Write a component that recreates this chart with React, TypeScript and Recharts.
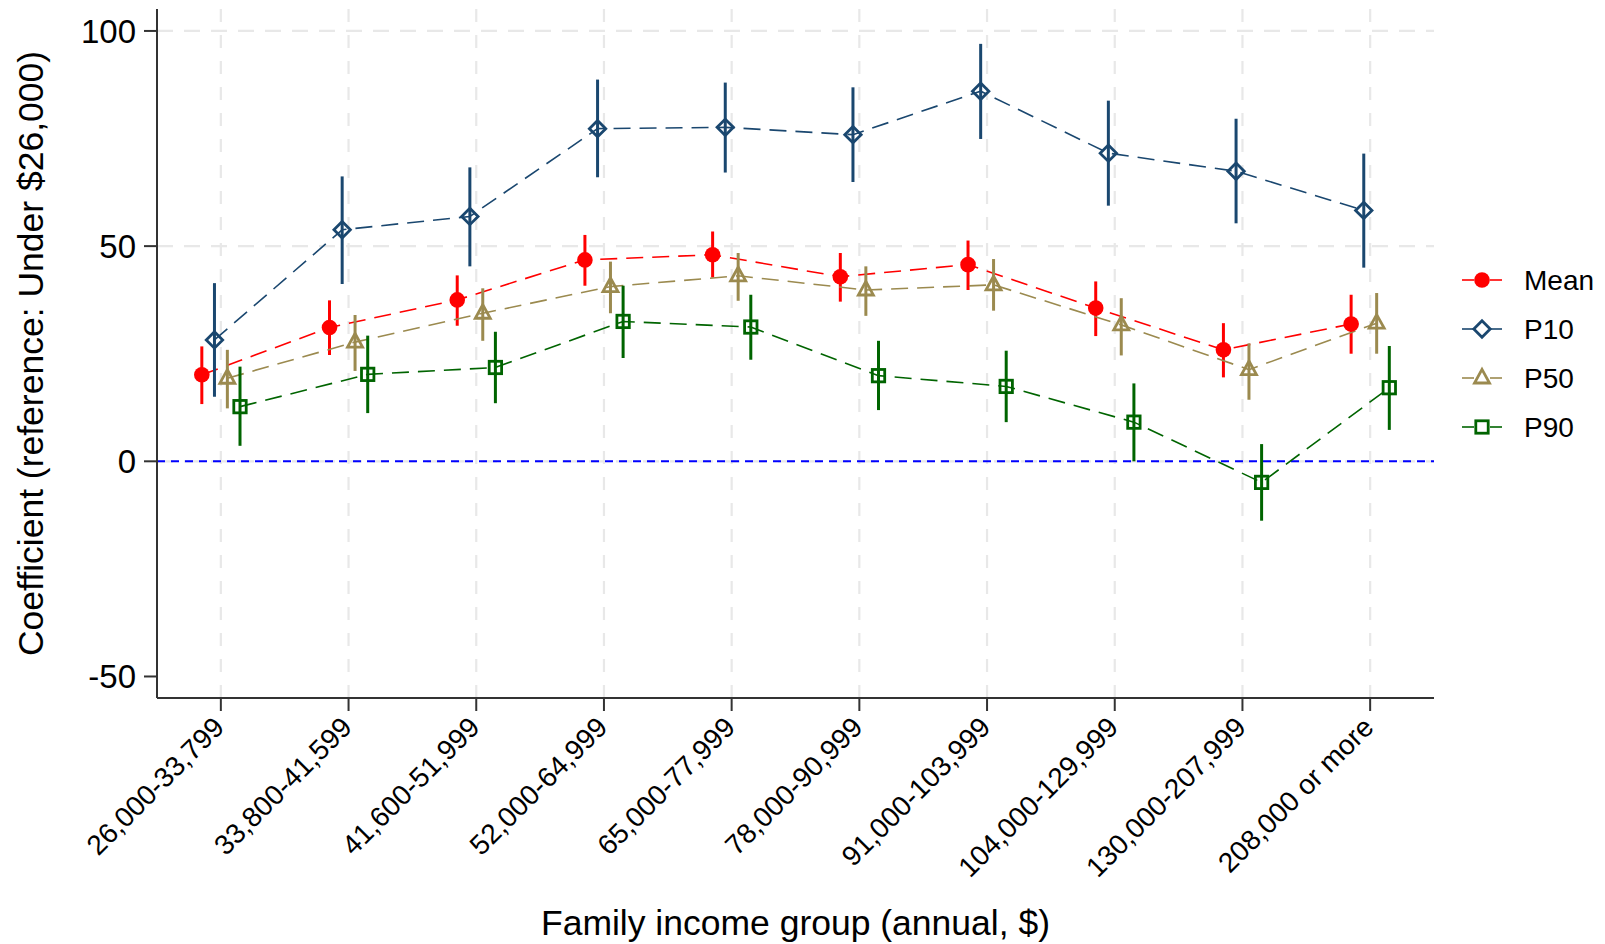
import React from 'react';
import { ComposedChart, Line, XAxis, YAxis, ErrorBar, ReferenceLine, Legend, Label } from 'recharts';

const categories = [
  '26,000-33,799', '33,800-41,599', '41,600-51,999', '52,000-64,999', '65,000-77,999',
  '78,000-90,999', '91,000-103,999', '104,000-129,999', '130,000-207,999', '208,000 or more',
];

const seriesNames = ['Mean', 'P10', 'P50', 'P90'];

const meanValues = [20.1, 31.1, 37.5, 46.8, 48.0, 42.9, 45.7, 35.6, 25.9, 31.9];
const meanLow = [13.3, 24.7, 31.5, 40.8, 42.7, 37.1, 39.8, 29.1, 19.5, 25.0];
const meanHigh = [26.7, 37.4, 43.2, 52.6, 53.4, 48.4, 51.3, 41.8, 32.1, 38.7];

const p10Values = [28.2, 53.8, 56.9, 77.3, 77.6, 75.9, 86.0, 71.6, 67.4, 58.3];
const p10Low = [15.0, 41.2, 45.3, 66.0, 67.1, 64.9, 74.9, 59.4, 55.3, 45.0];
const p10High = [41.4, 66.2, 68.3, 88.7, 88.0, 86.9, 97.0, 83.8, 79.6, 71.5];

const p50Values = [19.3, 27.7, 34.4, 40.6, 43.1, 39.8, 41.0, 31.7, 21.3, 32.1];
const p50Low = [12.3, 21.0, 28.0, 34.4, 37.3, 33.8, 35.0, 24.6, 14.3, 25.0];
const p50High = [25.9, 34.0, 40.2, 46.4, 48.4, 45.3, 47.0, 37.9, 27.4, 39.1];

const p90Values = [12.7, 20.2, 21.8, 32.5, 31.2, 19.9, 17.4, 9.1, -4.9, 17.1];
const p90Low = [3.6, 11.2, 13.5, 24.0, 23.6, 11.9, 9.1, 0.0, -13.8, 7.3];
const p90High = [22.0, 29.2, 30.1, 40.8, 38.7, 28.0, 25.7, 18.1, 4.0, 26.8];

const yTicks = [-50, 0, 50, 100];
const gridYValues = [0, 50, 100];

const xTitle = 'Family income group (annual, $)';
const yTitle = 'Coefficient (reference: Under $26,000)';

const FONT = '"Liberation Sans", Arial, Helvetica, sans-serif';
const MEAN_COLOR = '#ff0000';
const P10_COLOR = '#1a476f';
const P50_COLOR = '#9b8a4f';
const P90_COLOR = '#006400';
const AXIS_COLOR = '#333333';
const GRID_COLOR = '#e8e8e8';

// horizontal dodge of each series within a category (in category units)
const offsets = [-0.149, -0.05, 0.051, 0.15];

const buildData = (vals: number[], lo: number[], hi: number[], off: number) =>
  vals.map((v, i) => ({ x: i + off, y: v, err: [v - lo[i], hi[i] - v] }));

const meanData = buildData(meanValues, meanLow, meanHigh, offsets[0]);
const p10Data = buildData(p10Values, p10Low, p10High, offsets[1]);
const p50Data = buildData(p50Values, p50Low, p50High, offsets[2]);
const p90Data = buildData(p90Values, p90Low, p90High, offsets[3]);

type Shape = 'circle' | 'diamond' | 'triangle' | 'square';

const drawMarker = (shape: Shape, cx: number, cy: number, color: string, key?: string | number) => {
  if (cx == null || cy == null || isNaN(cx) || isNaN(cy)) return <g key={key} />;
  if (shape === 'circle') {
    return <circle key={key} cx={cx} cy={cy} r={7.8} fill={color} stroke="none" />;
  }
  if (shape === 'diamond') {
    const h = 8.2;
    return (
      <polygon key={key}
        points={`${cx},${cy - h} ${cx + h},${cy} ${cx},${cy + h} ${cx - h},${cy}`}
        fill="none" stroke={color} strokeWidth={2.8} />
    );
  }
  if (shape === 'triangle') {
    return (
      <polygon key={key}
        points={`${cx},${cy - 8.6} ${cx + 7.5},${cy + 5} ${cx - 7.5},${cy + 5}`}
        fill="none" stroke={color} strokeWidth={2.8} strokeLinejoin="miter" />
    );
  }
  const s = 6.2;
  return <rect key={key} x={cx - s} y={cy - s} width={2 * s} height={2 * s} fill="none" stroke={color} strokeWidth={2.8} />;
};

const dotFor = (shape: Shape, color: string) => (props: any) =>
  drawMarker(shape, props.cx, props.cy, color, `${shape}-${props.index}`);

const legendShapes: Shape[] = ['circle', 'diamond', 'triangle', 'square'];
const legendColors = [MEAN_COLOR, P10_COLOR, P50_COLOR, P90_COLOR];

const renderLegend = () => (
  <svg width={165} height={200} style={{ display: 'block', overflow: 'visible' }}>
    {seriesNames.map((name, i) => {
      const cy = 25 + i * 49;
      const cx = 42;
      const c = legendColors[i];
      return (
        <g key={name}>
          <line x1={cx - 20} y1={cy} x2={cx - 8} y2={cy} stroke={c} strokeWidth={1.6} />
          <line x1={cx + 8} y1={cy} x2={cx + 20} y2={cy} stroke={c} strokeWidth={1.6} />
          {drawMarker(legendShapes[i], cx, cy, c)}
          <text x={84} y={cy} dy="0.36em" fontSize={28} fontFamily={FONT} fill="#000">{name}</text>
        </g>
      );
    })}
  </svg>
);

const XTick = (props: any) => {
  const { x, payload } = props;
  const ax = x + 5;
  const ay = 729;
  return (
    <text x={ax} y={ay} textAnchor="end" fontSize={28} fontFamily={FONT} fill="#000"
      transform={`rotate(-45, ${ax}, ${ay})`}>
      {categories[payload.value]}
    </text>
  );
};

const YTitle = (props: any) => {
  const vb = props.viewBox || {};
  const cx = 43;
  const cy = (vb.y ?? 9) + (vb.height ?? 689) / 2;
  return (
    <text x={cx} y={cy} textAnchor="middle" fontSize={35.5} fontFamily={FONT} fill="#000"
      transform={`rotate(-90, ${cx}, ${cy})`}>
      {yTitle}
    </text>
  );
};

const XTitle = (props: any) => {
  const vb = props.viewBox || {};
  const cx = (vb.x ?? 157) + (vb.width ?? 1277) / 2;
  return (
    <text x={cx} y={934.5} textAnchor="middle" fontSize={35.5} fontFamily={FONT} fill="#000">
      {xTitle}
    </text>
  );
};

const tickIdx = categories.map((_, i) => i);

export default function App() {
  return (
    <div style={{ position: 'absolute', left: 0, top: 0, width: 1605, height: 944, background: '#fff' }}>
      <ComposedChart width={1605} height={944} margin={{ top: 9, right: 6, bottom: 0, left: 0 }}
        style={{ fontFamily: FONT }}>
        <XAxis type="number" dataKey="x" domain={[-0.5, 9.5]} ticks={tickIdx} interval={0}
          allowDataOverflow height={246} tickSize={13}
          axisLine={{ stroke: AXIS_COLOR, strokeWidth: 2 }}
          tickLine={{ stroke: AXIS_COLOR, strokeWidth: 2 }}
          tick={<XTick />}>
          <Label content={<XTitle />} />
        </XAxis>
        <YAxis type="number" domain={[-55, 105.1]} ticks={yTicks} allowDataOverflow width={157}
          tickSize={13} tickMargin={8}
          axisLine={{ stroke: AXIS_COLOR, strokeWidth: 2 }}
          tickLine={{ stroke: AXIS_COLOR, strokeWidth: 2 }}
          tick={{ fontSize: 33, fill: '#000', fontFamily: FONT }}>
          <Label content={<YTitle />} />
        </YAxis>

        {tickIdx.map((i) => (
          <ReferenceLine key={`vg${i}`} x={i} stroke={GRID_COLOR} strokeWidth={2.2} strokeDasharray="13 13" />
        ))}
        {gridYValues.map((v) => (
          <ReferenceLine key={`hg${v}`} y={v} stroke={GRID_COLOR} strokeWidth={2.2} strokeDasharray="16 11" />
        ))}
        <ReferenceLine y={0} stroke="#0000ff" strokeWidth={2} strokeDasharray="8 6" />

        <Legend layout="vertical" align="right" verticalAlign="top" content={renderLegend}
          wrapperStyle={{ left: 1440, top: 255, width: 165, height: 200 }} />

        <Line data={meanData} dataKey="y" name="Mean" stroke={MEAN_COLOR} strokeWidth={1.6}
          strokeDasharray="17 9" dot={dotFor('circle', MEAN_COLOR)} activeDot={false}
          isAnimationActive={false}>
          <ErrorBar dataKey="err" direction="y" width={0} stroke={MEAN_COLOR} strokeWidth={3} isAnimationActive={false} />
        </Line>
        <Line data={p10Data} dataKey="y" name="P10" stroke={P10_COLOR} strokeWidth={1.6}
          strokeDasharray="17 9" dot={dotFor('diamond', P10_COLOR)} activeDot={false}
          isAnimationActive={false}>
          <ErrorBar dataKey="err" direction="y" width={0} stroke={P10_COLOR} strokeWidth={3} isAnimationActive={false} />
        </Line>
        <Line data={p50Data} dataKey="y" name="P50" stroke={P50_COLOR} strokeWidth={1.6}
          strokeDasharray="17 9" dot={dotFor('triangle', P50_COLOR)} activeDot={false}
          isAnimationActive={false}>
          <ErrorBar dataKey="err" direction="y" width={0} stroke={P50_COLOR} strokeWidth={3} isAnimationActive={false} />
        </Line>
        <Line data={p90Data} dataKey="y" name="P90" stroke={P90_COLOR} strokeWidth={1.6}
          strokeDasharray="17 9" dot={dotFor('square', P90_COLOR)} activeDot={false}
          isAnimationActive={false}>
          <ErrorBar dataKey="err" direction="y" width={0} stroke={P90_COLOR} strokeWidth={3} isAnimationActive={false} />
        </Line>
      </ComposedChart>
    </div>
  );
}
